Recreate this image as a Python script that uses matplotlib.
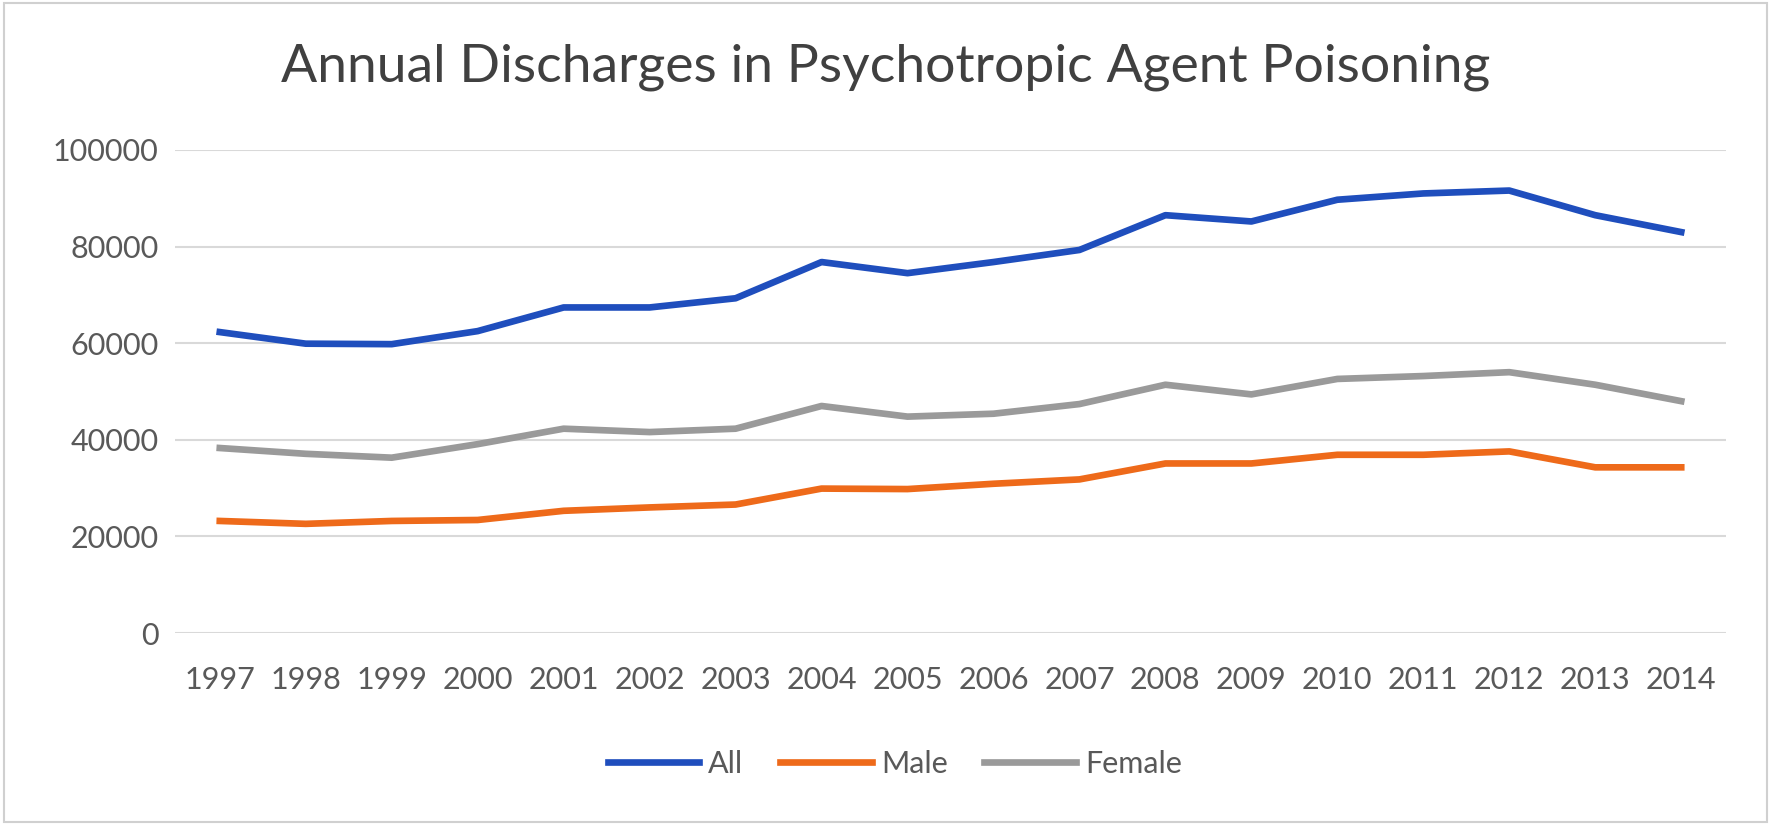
import matplotlib
matplotlib.use("Agg")
import matplotlib.pyplot as plt
from matplotlib.patches import Rectangle

# values
years = ['1997', '1998', '1999', '2000', '2001', '2002', '2003', '2004', '2005',
         '2006', '2007', '2008', '2009', '2010', '2011', '2012', '2013', '2014']
all_disch = [62300, 59900, 59800, 62500, 67400, 67400, 69300, 76800, 74500,
             76800, 79300, 86500, 85200, 89700, 91000, 91600, 86500, 83000]
male = [23200, 22600, 23200, 23400, 25300, 26000, 26600, 29900, 29800,
        30900, 31800, 35100, 35100, 36900, 36900, 37600, 34300, 34300]
female = [38300, 37100, 36300, 39100, 42300, 41600, 42300, 47000, 44800,
          45400, 47400, 51400, 49400, 52600, 53200, 54000, 51400, 48000]
yticks = [0, 20000, 40000, 60000, 80000, 100000]

plt.rcParams['font.family'] = ['Lato', 'DejaVu Sans']

fig = plt.figure(figsize=(17.72, 8.36), dpi=100)
ax = fig.add_axes([0.0988, 0.2428, 0.8752, 0.5778])

x = range(len(years))
ax.plot(x, all_disch, color='#1F4EBD', lw=4.8, label='All', solid_joinstyle='round')
ax.plot(x, male, color='#EE6A1A', lw=4.8, label='Male', solid_joinstyle='round')
ax.plot(x, female, color='#9A9A9A', lw=4.8, label='Female', solid_joinstyle='round')

ax.set_xlim(-0.52, len(years) - 0.48)
ax.set_ylim(0, 100000)
ax.set_yticks(yticks)
ax.set_yticklabels([str(v) for v in yticks])
ax.set_xticks(list(x))
ax.set_xticklabels(years)
ax.grid(axis='y', color='#D9D9D9', lw=1.5)
ax.set_axisbelow(True)
for s in ax.spines.values():
    s.set_visible(False)
ax.tick_params(axis='both', length=0, labelsize=22, colors='#595959')
ax.tick_params(axis='y', pad=12)
ax.tick_params(axis='x', pad=24)

fig.text(0.5, 0.92, 'Annual Discharges in Psychotropic Agent Poisoning',
         ha='center', va='center', fontsize=38.5, color='#404040')

fig.legend(loc='center', bbox_to_anchor=(0.505, 0.086), ncol=3, frameon=False,
           fontsize=22, handlelength=3.0, handletextpad=0.3, columnspacing=1.2,
           labelcolor='#595959')

# chart border
fig.patches.append(Rectangle((0.002, 0.017), 0.995, 0.98, transform=fig.transFigure,
                             fill=False, edgecolor='#D0D0D0', lw=1.5))

fig.savefig('out.png', dpi=100)
